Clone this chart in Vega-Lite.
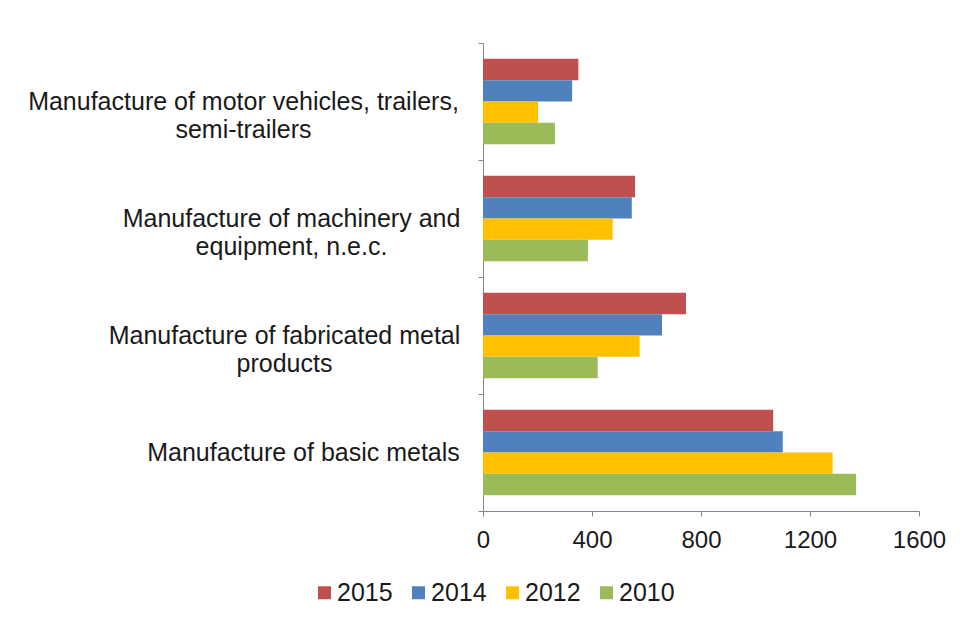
{
  "$schema": "https://vega.github.io/schema/vega-lite/v6.json",
  "width": 436,
  "height": 468,
  "autosize": {"type": "none"},
  "padding": {"left": 483, "top": 43, "right": 46, "bottom": 115},
  "background": "white",
  "config": {"view": {"stroke": null}, "font": "Liberation Sans"},
  "data": {
    "values": [
      {"industry": "Manufacture of motor vehicles, trailers, semi-trailers", "year": "2015", "value": 350},
      {"industry": "Manufacture of motor vehicles, trailers, semi-trailers", "year": "2014", "value": 327},
      {"industry": "Manufacture of motor vehicles, trailers, semi-trailers", "year": "2012", "value": 202},
      {"industry": "Manufacture of motor vehicles, trailers, semi-trailers", "year": "2010", "value": 264},
      {"industry": "Manufacture of machinery and equipment, n.e.c.", "year": "2015", "value": 558},
      {"industry": "Manufacture of machinery and equipment, n.e.c.", "year": "2014", "value": 546},
      {"industry": "Manufacture of machinery and equipment, n.e.c.", "year": "2012", "value": 476},
      {"industry": "Manufacture of machinery and equipment, n.e.c.", "year": "2010", "value": 385},
      {"industry": "Manufacture of fabricated metal products", "year": "2015", "value": 745},
      {"industry": "Manufacture of fabricated metal products", "year": "2014", "value": 657},
      {"industry": "Manufacture of fabricated metal products", "year": "2012", "value": 575},
      {"industry": "Manufacture of fabricated metal products", "year": "2010", "value": 421},
      {"industry": "Manufacture of basic metals", "year": "2015", "value": 1065},
      {"industry": "Manufacture of basic metals", "year": "2014", "value": 1100},
      {"industry": "Manufacture of basic metals", "year": "2012", "value": 1283},
      {"industry": "Manufacture of basic metals", "year": "2010", "value": 1369}
    ]
  },
  "mark": {"type": "bar"},
  "encoding": {
    "y": {
      "field": "industry",
      "type": "nominal",
      "sort": [
        "Manufacture of motor vehicles, trailers, semi-trailers",
        "Manufacture of machinery and equipment, n.e.c.",
        "Manufacture of fabricated metal products",
        "Manufacture of basic metals"
      ],
      "scale": {"paddingInner": 0, "paddingOuter": 0},
      "axis": {
        "title": null,
        "tickBand": "extent",
        "domainColor": "#868686",
        "tickColor": "#868686",
        "tickSize": 5,
        "labelPadding": {
          "condition": [
            {"test": "datum.value == 'Manufacture of motor vehicles, trailers, semi-trailers'", "value": 235},
            {"test": "datum.value == 'Manufacture of machinery and equipment, n.e.c.'", "value": 187},
            {"test": "datum.value == 'Manufacture of fabricated metal products'", "value": 194}
          ],
          "value": 175
        },
        "labelFontSize": 25,
        "labelColor": "#1a1a1a",
        "labelLineHeight": 28,
        "labelAlign": "center",
        "labelBaseline": "middle",
        "labelLimit": 600,
        "labelExpr": "datum.value == 'Manufacture of motor vehicles, trailers, semi-trailers' ? ['Manufacture of motor vehicles, trailers,', 'semi-trailers'] : datum.value == 'Manufacture of machinery and equipment, n.e.c.' ? ['Manufacture of machinery and', 'equipment, n.e.c.'] : datum.value == 'Manufacture of fabricated metal products' ? ['Manufacture of fabricated metal', 'products'] : datum.label"
      }
    },
    "yOffset": {
      "field": "year",
      "type": "nominal",
      "sort": ["2015", "2014", "2012", "2010"],
      "scale": {"paddingInner": 0, "paddingOuter": 0.74}
    },
    "x": {
      "field": "value",
      "type": "quantitative",
      "scale": {"domain": [0, 1600], "nice": false},
      "axis": {
        "title": null,
        "values": [0, 400, 800, 1200, 1600],
        "format": "d",
        "grid": false,
        "domainColor": "#868686",
        "tickColor": "#868686",
        "tickSize": 5,
        "labelFontSize": 24,
        "labelColor": "#1a1a1a",
        "labelPadding": 12,
        "labelFlush": false
      }
    },
    "color": {
      "field": "year",
      "type": "nominal",
      "scale": {
        "domain": ["2015", "2014", "2012", "2010"],
        "range": ["#C0504D", "#4F81BD", "#FFC000", "#9BBB59"]
      },
      "legend": {
        "title": null,
        "orient": "none",
        "direction": "horizontal",
        "legendX": -171,
        "legendY": 537,
        "symbolType": "square",
        "symbolSize": 169,
        "symbolStrokeWidth": 0,
        "labelFontSize": 25,
        "labelColor": "#1a1a1a",
        "labelOffset": 0,
        "columnPadding": 13
      }
    }
  }
}
